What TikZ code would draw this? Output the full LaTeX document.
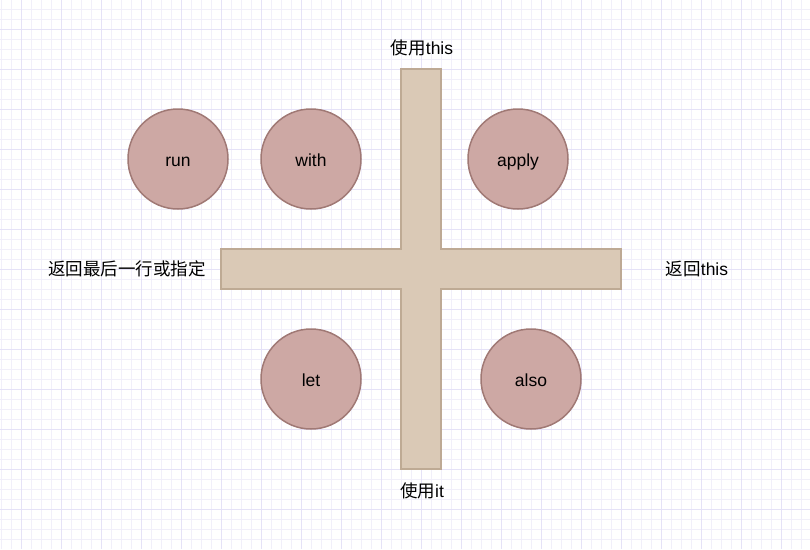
\documentclass[tikz,border=0pt]{standalone}
\usepackage{fontspec}
\setmainfont{Liberation Sans}
\newfontfamily\cjk{Noto Sans CJK SC}
\definecolor{gridminor}{RGB}{241,239,250}
\definecolor{gridmajor}{RGB}{229,226,247}
\definecolor{ballfill}{RGB}{205,168,164}
\definecolor{balledge}{RGB}{160,121,117}
\definecolor{crossfill}{RGB}{218,201,182}
\definecolor{crossedge}{RGB}{190,170,148}

\begin{document}
\begin{tikzpicture}[
    x=1pt, y=-1pt,
    font=\fontsize{17.5}{21}\selectfont,
    ball/.style={circle, draw=balledge, fill=ballfill, line width=1.5pt,
        minimum size=100pt, inner sep=0pt, text height=14pt, text depth=0pt},
    bar/.style={draw=crossedge, fill=crossfill, line width=1.5pt},
    tag/.style={inner sep=0pt},
]

    \useasboundingbox (0,0) rectangle (810,549);

    % background grid, 10px cells with a darker line every 40px
    \foreach \gx in {1,11,...,801}
        \draw[gridminor, line width=1pt] (\gx,0) -- (\gx,549);
    \foreach \gy in {9,19,...,539}
        \draw[gridminor, line width=1pt] (0,\gy) -- (810,\gy);
    \foreach \gx in {21,61,...,781}
        \draw[gridmajor, line width=1pt] (\gx,0) -- (\gx,549);
    \foreach \gy in {29,69,...,509}
        \draw[gridmajor, line width=1pt] (0,\gy) -- (810,\gy);

    % the cross: this/it vertically, return value horizontally
    \path[bar] (401,69) -- (441,69) -- (441,249) -- (621,249)
        -- (621,289) -- (441,289) -- (441,469) -- (401,469)
        -- (401,289) -- (221,289) -- (221,249) -- (401,249) -- cycle;

    % axis labels
    \node[tag] (usethis) at (422,48) {{\cjk 使用}this};
    \node[tag] (useit) at (422,491) {{\cjk 使用}it};
    \node[tag] (retlast) at (127,269) {\cjk 返回最后一行或指定};
    \node[tag] (retthis) at (697,269) {{\cjk 返回}this};

    % the scope functions
    \node[ball] (run) at (178,159) {run};
    \node[ball] (with) at (311,159) {with};
    \node[ball] (apply) at (518,159) {apply};
    \node[ball] (let) at (311,379) {let};
    \node[ball] (also) at (531,379) {also};

\end{tikzpicture}
\end{document}
